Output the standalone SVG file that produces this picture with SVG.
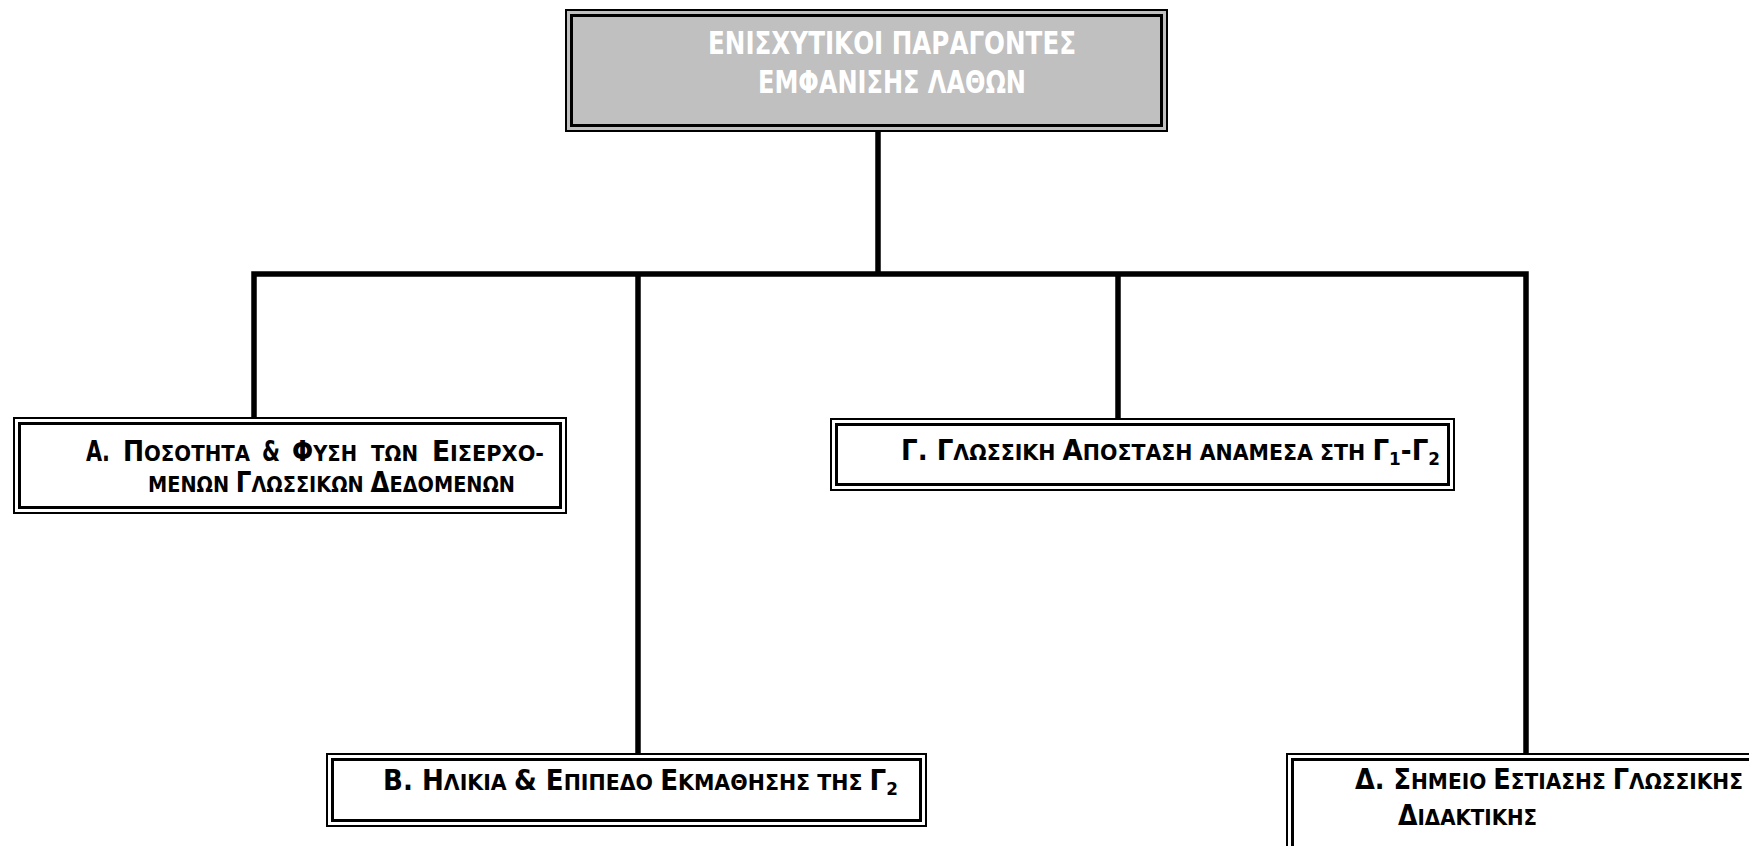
<svg xmlns="http://www.w3.org/2000/svg" width="1749" height="846" viewBox="0 0 1749 846">
<style>
text{font-family:"DejaVu Sans Condensed","DejaVu Sans","Noto Sans",sans-serif;font-stretch:condensed;font-weight:bold;fill:#000}
.t{font-size:31px;fill:#fff}
.c{font-size:28px}
.s{font-size:22px}
.sub{font-size:18px}
.o{fill:#fff;stroke:#000;stroke-width:2}
.i{fill:none;stroke:#000;stroke-width:3}
.g{fill:#c0c0c0}
.ln{fill:none;stroke:#000;stroke-width:5.5;stroke-linejoin:miter}
</style>
<rect width="1749" height="846" fill="#fff"/>
<g id="connectors">
<path class="ln" d="M878 132 V274"/>
<path class="ln" d="M254 418 V274 H1526 V754"/>
<path class="ln" d="M638 274 V754"/>
<path class="ln" d="M1118 274 V419"/>
</g>
<g id="top">
<rect class="o g" x="566" y="10" width="601" height="121"/>
<rect class="i" x="571.5" y="15.5" width="590" height="110"/>
<text class="t" x="708" y="54" textLength="368" lengthAdjust="spacingAndGlyphs">ΕΝΙΣΧΥΤΙΚΟΙ ΠΑΡΑΓΟΝΤΕΣ</text>
<text class="t" x="758" y="93" textLength="268" lengthAdjust="spacingAndGlyphs">ΕΜΦΑΝΙΣΗΣ ΛΑΘΩΝ</text>
</g>
<g id="nodeA">
<rect class="o" x="14" y="418" width="552" height="95"/>
<rect class="i" x="19.5" y="423.5" width="541" height="84"/>
<text x="86" y="461" textLength="24" lengthAdjust="spacingAndGlyphs" class="c">Α.</text>
<text x="123" y="461" textLength="127" lengthAdjust="spacingAndGlyphs"><tspan class="c">Π</tspan><tspan class="s">ΟΣΟΤΗΤΑ</tspan></text>
<text class="c" x="262" y="461" textLength="18" lengthAdjust="spacingAndGlyphs">&amp;</text>
<text x="292" y="461" textLength="65" lengthAdjust="spacingAndGlyphs"><tspan class="c">Φ</tspan><tspan class="s">ΥΣΗ</tspan></text>
<text class="s" x="371" y="461" textLength="47" lengthAdjust="spacingAndGlyphs">ΤΩΝ</text>
<text x="432" y="461" textLength="112" lengthAdjust="spacingAndGlyphs"><tspan class="c">Ε</tspan><tspan class="s">ΙΣΕΡΧΟ-</tspan></text>
<text x="148" y="492" textLength="367" lengthAdjust="spacingAndGlyphs"><tspan class="s">ΜΕΝΩΝ </tspan><tspan class="c">Γ</tspan><tspan class="s">ΛΩΣΣΙΚΩΝ </tspan><tspan class="c">Δ</tspan><tspan class="s">ΕΔΟΜΕΝΩΝ</tspan></text>
</g>
<g id="nodeG">
<rect class="o" x="831" y="419" width="623" height="71"/>
<rect class="i" x="836.5" y="424.5" width="612" height="60"/>
<text x="901" y="460" textLength="539" lengthAdjust="spacingAndGlyphs"><tspan class="c">Γ. Γ</tspan><tspan class="s">ΛΩΣΣΙΚΗ </tspan><tspan class="c">Α</tspan><tspan class="s">ΠΟΣΤΑΣΗ ΑΝΑΜΕΣΑ ΣΤΗ </tspan><tspan class="c">Γ</tspan><tspan class="sub" dy="5">1</tspan><tspan class="c" dy="-5">-Γ</tspan><tspan class="sub" dy="5">2</tspan></text>
</g>
<g id="nodeB">
<rect class="o" x="327" y="754" width="599" height="72"/>
<rect class="i" x="332.5" y="759.5" width="588" height="61"/>
<text x="383" y="790" textLength="515" lengthAdjust="spacingAndGlyphs"><tspan class="c">Β. Η</tspan><tspan class="s">ΛΙΚΙΑ </tspan><tspan class="c">&amp; Ε</tspan><tspan class="s">ΠΙΠΕΔΟ </tspan><tspan class="c">Ε</tspan><tspan class="s">ΚΜΑΘΗΣΗΣ ΤΗΣ </tspan><tspan class="c">Γ</tspan><tspan class="sub" dy="5">2</tspan></text>
</g>
<g id="nodeD">
<rect class="o" x="1287" y="754" width="500" height="120"/>
<rect class="i" x="1292.5" y="759.5" width="500" height="120"/>
<text x="1355" y="789"><tspan textLength="388" lengthAdjust="spacingAndGlyphs"><tspan class="c">Δ. Σ</tspan><tspan class="s">ΗΜΕΙΟ </tspan><tspan class="c">Ε</tspan><tspan class="s">ΣΤΙΑΣΗΣ  </tspan><tspan class="c">Γ</tspan><tspan class="s">ΛΩΣΣΙΚΗΣ</tspan></tspan><tspan x="1398" y="825" class="c">Δ</tspan><tspan class="s">ΙΔΑΚΤΙΚΗΣ</tspan></text>
</g>
</svg>
